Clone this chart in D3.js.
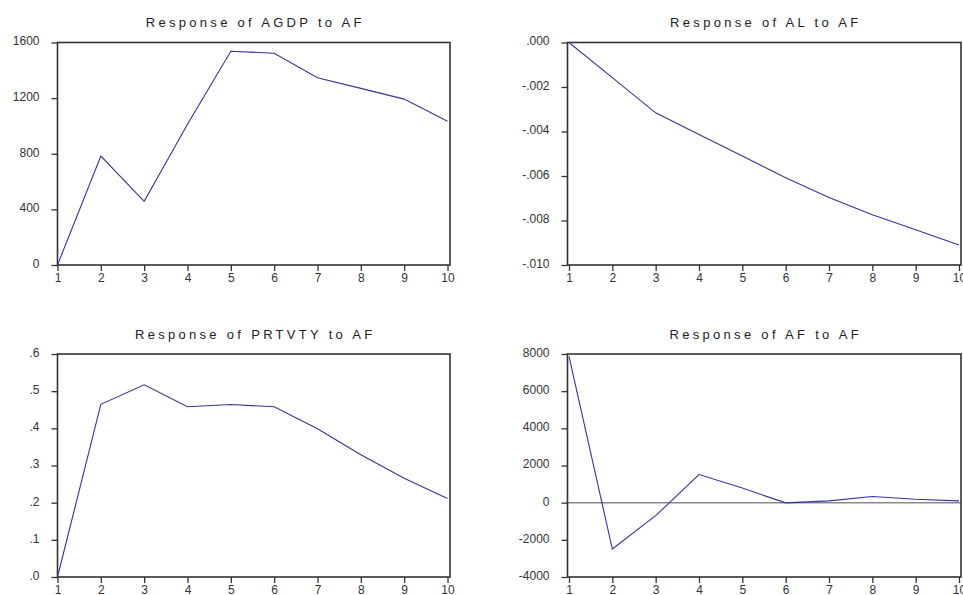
<!DOCTYPE html>
<html><head><meta charset="utf-8">
<script src="https://cdn.jsdelivr.net/npm/d3@7"></script>
<style>
html,body{margin:0;padding:0;background:#fff;}
svg{display:block;}
text{font-family:Arial,"Liberation Sans",sans-serif;}
</style></head>
<body>
<svg id="chart" width="963" height="595"></svg>
<script>
const periods = [1,2,3,4,5,6,7,8,9,10];

const titles = ["Response of AGDP to AF","Response of AL to AF","Response of PRTVTY to AF","Response of AF to AF"];

const agdp   = [0, 783, 458, 1012, 1537, 1523, 1347, 1270, 1193, 1034];
const al     = [0, -0.00158, -0.00316, -0.00413, -0.0051, -0.00608, -0.00697, -0.00774, -0.00842, -0.0091];
const prtvty = [0, 0.4645, 0.517, 0.458, 0.464, 0.458, 0.399, 0.329, 0.266, 0.211];
const af     = [7873, -2495, -701, 1511, 785, -12, 97, 332, 187, 97];

const ticksAgdp   = [0, 400, 800, 1200, 1600];
const labelsAgdp  = ["0","400","800","1200","1600"];
const ticksAl     = [0, -0.002, -0.004, -0.006, -0.008, -0.010];
const labelsAl    = [".000","-.002","-.004","-.006","-.008","-.010"];
const ticksPr     = [0, 0.1, 0.2, 0.3, 0.4, 0.5, 0.6];
const labelsPr    = [".0",".1",".2",".3",".4",".5",".6"];
const ticksAf     = [-4000, -2000, 0, 2000, 4000, 6000, 8000];
const labelsAf    = ["-4000","-2000","0","2000","4000","6000","8000"];

const panels = [
  {title:titles[0], data:agdp,   ticks:ticksAgdp, labels:labelsAgdp, left:57.5,  right:450, top:42.5, bottom:265, x1:57.5, x10:447.5, zero:false},
  {title:titles[1], data:al,     ticks:ticksAl,   labels:labelsAl,   left:567.5, right:961, top:42.5, bottom:265, x1:569,  x10:959,   zero:false},
  {title:titles[2], data:prtvty, ticks:ticksPr,   labels:labelsPr,   left:57.5,  right:450, top:354,  bottom:577, x1:57.5, x10:447.5, zero:false},
  {title:titles[3], data:af,     ticks:ticksAf,   labels:labelsAf,   left:567.5, right:961, top:354,  bottom:577, x1:569,  x10:959,   zero:true}
];

const svg = d3.select("#chart");
const lineColor = "#34349f";
const frameColor = "#333";
const textColor = "#333";

panels.forEach(p => {
  const g = svg.append("g");
  const x = d3.scaleLinear().domain([1,10]).range([p.x1, p.x10]);
  const y = d3.scaleLinear().domain(d3.extent(p.ticks)).range([p.bottom, p.top]);

  // title
  g.append("text")
    .attr("x", (p.left + p.right)/2 + 1.5)
    .attr("y", p.top - 15.5)
    .attr("text-anchor","middle")
    .attr("font-size", 13)
    .attr("letter-spacing", 3.3)
    .attr("fill", "#222")
    .text(p.title);

  // zero line
  if (p.zero) {
    g.append("line")
      .attr("x1", p.left).attr("x2", p.right)
      .attr("y1", y(0)).attr("y2", y(0))
      .attr("stroke", "#8a8a8a").attr("stroke-width", 1.5);
  }

  // y axis
  const ya = d3.axisLeft(y).tickValues(p.ticks)
    .tickFormat((d,i) => p.labels[i]).tickSize(6).tickPadding(12);
  const yg = g.append("g").attr("transform", `translate(${p.left},0)`).call(ya);
  yg.select(".domain").remove();
  yg.selectAll("line").attr("stroke", frameColor).attr("stroke-width", 1.3);
  yg.selectAll("text").attr("font-size", 12).attr("fill", textColor)
    .attr("font-family", "Arial, 'Liberation Sans', sans-serif").attr("dy", "0.2em");

  // x axis
  const xa = d3.axisBottom(x).tickValues(periods).tickFormat(d3.format("d")).tickSize(6).tickPadding(2);
  const xg = g.append("g").attr("transform", `translate(0,${p.bottom})`).call(xa);
  xg.select(".domain").remove();
  xg.selectAll("line").attr("stroke", frameColor).attr("stroke-width", 1.3);
  xg.selectAll("text").attr("font-size", 12).attr("fill", textColor)
    .attr("font-family", "Arial, 'Liberation Sans', sans-serif");

  // frame
  g.append("rect")
    .attr("x", p.left).attr("y", p.top)
    .attr("width", p.right - p.left).attr("height", p.bottom - p.top)
    .attr("fill", "none").attr("stroke", frameColor).attr("stroke-width", 1.6);

  // series line
  const line = d3.line().x((d,i) => x(periods[i])).y(d => y(d));
  g.append("path").datum(p.data)
    .attr("d", line)
    .attr("fill", "none")
    .attr("stroke", lineColor)
    .attr("stroke-width", 1.1);
});
</script>
</body></html>
